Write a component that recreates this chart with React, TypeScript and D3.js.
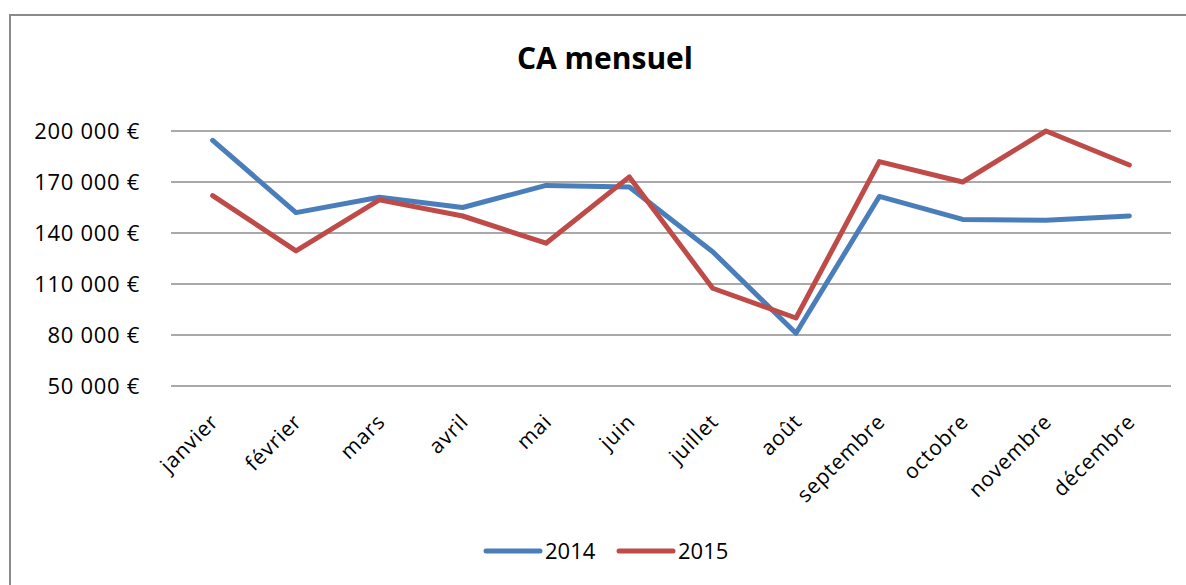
import * as d3 from 'd3';

const months = ['janvier', 'février', 'mars', 'avril', 'mai', 'juin', 'juillet', 'août', 'septembre', 'octobre', 'novembre', 'décembre'];
const ca2014 = [194500, 152000, 161000, 155000, 168000, 167000, 129000, 81000, 161500, 148000, 147500, 150000];
const ca2015 = [162000, 129500, 159500, 150000, 134000, 173000, 107500, 90000, 182000, 170000, 200000, 180000];
const yTicks = [50000, 80000, 110000, 140000, 170000, 200000];
const seriesNames = ['2014', '2015'];

const W = 1186, H = 585;
const font = '"Open Sans", "Noto Sans", sans-serif';

const fr = d3.formatLocale({
	decimal: ','
	, thousands: '\u00a0'
	, grouping: [3]
	, currency: ['', '\u00a0€']
});
const fmt = fr.format('$,');

export default function App(){
	const x = d3.scalePoint<string>().domain(months).range([171, 1171]).padding(0.5)
		, y = d3.scaleLinear().domain([50000, 200000]).range([386, 131])
		, line = d3.line<number>().x((d, i) => x(months[i]) as number).y(d => y(d))
		, series = [
			{name: seriesNames[0], values: ca2014, color: '#4a7ebb'}
			, {name: seriesNames[1], values: ca2015, color: '#be4b48'}
		]
		;

	return (<svg width={W} height={H} style={{position: 'absolute', left: 0, top: 0, background: '#fff'}} fontFamily={font}>
		<rect x={0} y={0} width={W} height={H} fill="#fff"/>
		{/* cadre du graphique */}
		<rect x={10} y={15} width={W + 20} height={H + 20} fill="none" stroke="#8a8a8a" strokeWidth={2}/>

		<text x={605} y={69} textAnchor="middle" fontSize={30} fontWeight="bold" fill="#000">CA mensuel</text>

		{/* grille + axe Y */}
		{yTicks.map(t => (<g key={t}>
			<line x1={171} x2={1171} y1={y(t)} y2={y(t)} stroke="#8c8c8c" strokeWidth={1.6}/>
			<text x={140} y={y(t)} dy="0.36em" textAnchor="end" fontSize={22} letterSpacing={0.7} fill="#000">{fmt(t)}</text>
		</g>))}

		{/* axe X */}
		{months.map(m => (<text key={m}
		                        transform={`translate(${(x(m) as number) + 7},423) rotate(-45)`}
		                        textAnchor="end"
		                        fontSize={21}
		                        letterSpacing={0.8}
		                        fill="#000">{m}</text>))}

		{/* courbes */}
		{series.map(s => (<path key={s.name}
		                        d={line(s.values) as string}
		                        fill="none"
		                        stroke={s.color}
		                        strokeWidth={5}
		                        strokeLinejoin="round"
		                        strokeLinecap="round"/>))}

		{/* légende */}
		{series.map((s, i) => (<g key={s.name} transform={`translate(${486 + i * 133},0)`}>
			<line x1={0} x2={54} y1={551} y2={551} stroke={s.color} strokeWidth={5} strokeLinecap="round"/>
			<text x={59} y={559} fontSize={22} fill="#000">{s.name}</text>
		</g>))}
	</svg>);
}
